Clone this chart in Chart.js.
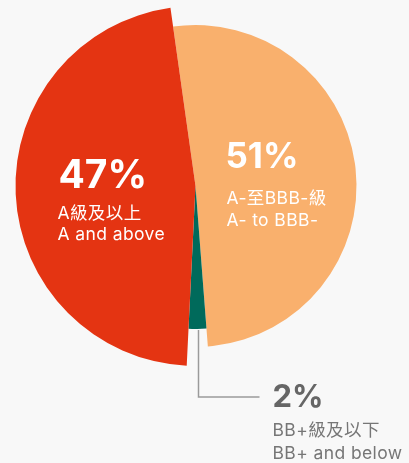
<!DOCTYPE html>
<html>
<head>
<meta charset="utf-8">
<script src="https://cdn.jsdelivr.net/npm/chart.js@4/dist/chart.umd.min.js"></script>
<style>
  html, body { margin:0; padding:0; background:#f8f8f8; }
  canvas { display:block; }
</style>
</head>
<body>
<canvas id="c" width="409" height="463"></canvas>
<script>
// ---- data ----
const categories   = ["A-至BBB-級", "BB+級及以下", "A級及以上"];
const categoriesEn = ["A- to BBB-", "BB+ and below", "A and above"];
const shares       = [51, 2, 47];
const pctLabels    = ["51%", "2%", "47%"];

// ---- style ----
const sliceColors = ["#F9B06D", "#006A5B", "#E43412"];
const sliceRadiusScale = [161/180, 143/180, 1];
const FONT = "Inter, 'Noto Sans CJK TC', sans-serif";

const varRadius = {
  id: 'varRadius',
  afterUpdate(chart) {
    const meta = chart.getDatasetMeta(0);
    meta.data.forEach((arc, i) => { arc.outerRadius = arc.outerRadius * sliceRadiusScale[i]; });
  }
};

const labelsPlugin = {
  id: 'sliceLabels',
  afterDatasetsDraw(chart) {
    const ctx = chart.ctx;
    const meta = chart.getDatasetMeta(0);
    const c = meta.data[0];
    const cx = c.x, cy = c.y;
    ctx.save();
    ctx.textAlign = 'left';
    ctx.textBaseline = 'alphabetic';
    const small = () => { ctx.font = `17.5px ${FONT}`; ctx.letterSpacing = '0.4px'; };
    const big = (s) => { ctx.font = `bold ${s}px ${FONT}`; ctx.letterSpacing = '0px'; };
    // red slice (index 2)
    ctx.fillStyle = '#ffffff';
    big(39);
    ctx.fillText(pctLabels[2], cx - 137, cy + 2);
    small();
    ctx.fillText(categories[2], cx - 138, cy + 33);
    ctx.fillText(categoriesEn[2], cx - 138, cy + 54);
    // orange slice (index 0)
    big(35);
    ctx.fillText(pctLabels[0], cx + 30, cy - 18);
    small();
    ctx.fillText(categories[0], cx + 31, cy + 18);
    ctx.fillText(categoriesEn[0], cx + 31, cy + 40);
    // teal slice (index 1) with leader line
    const t = meta.data[1];
    const lx = cx + 3, ly0 = cy + t.outerRadius + 1, ly1 = cy + 211;
    ctx.strokeStyle = '#9a9a9a';
    ctx.lineWidth = 1.5;
    ctx.beginPath();
    ctx.moveTo(lx, ly0);
    ctx.lineTo(lx, ly1);
    ctx.lineTo(cx + 64, ly1);
    ctx.stroke();
    ctx.fillStyle = '#666666';
    big(31);
    ctx.fillText(pctLabels[1], cx + 77, cy + 221);
    ctx.fillStyle = '#767676';
    small();
    ctx.fillText(categories[1], cx + 77, cy + 250);
    ctx.fillText(categoriesEn[1], cx + 77, cy + 273);
    ctx.restore();
  }
};

new Chart(document.getElementById('c'), {
  type: 'pie',
  data: {
    labels: categories,
    datasets: [{
      data: shares,
      backgroundColor: sliceColors,
      borderWidth: 0
    }]
  },
  options: {
    responsive: false,
    devicePixelRatio: 1,
    animation: false,
    events: [],
    rotation: -8,
    layout: { padding: { left: 15.5, right: 33.5, top: 6, bottom: 97 } },
    plugins: { legend: { display: false }, tooltip: { enabled: false } }
  },
  plugins: [varRadius, labelsPlugin]
});
</script>
</body>
</html>
